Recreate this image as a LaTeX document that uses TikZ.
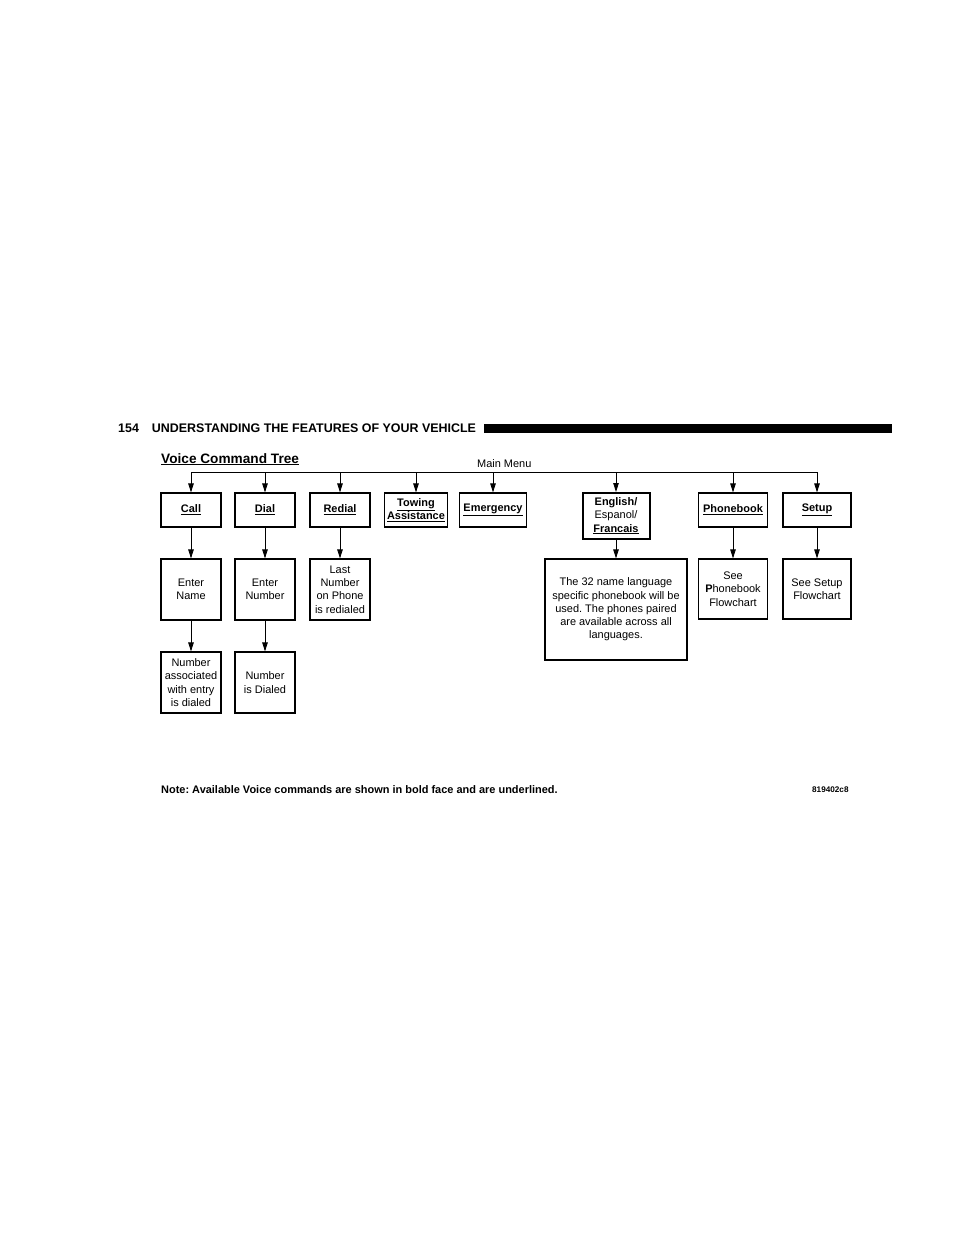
\documentclass[tikz,border=0pt]{standalone}
\usepackage{fontspec}
\setmainfont{Liberation Sans}
\usetikzlibrary{positioning,arrows.meta}

\begin{document}
\frenchspacing
\begin{tikzpicture}[x=1bp,y=-1bp,
    box/.style={draw,line width=1.2bp,align=center,inner sep=0pt,font=\fontsize{11}{13.3}\selectfont},
    cmd/.style={box,font=\fontsize{11}{13.3}\selectfont\bfseries},
    txt/.style={anchor=base west,inner sep=0pt},
    arr/.style={->,>={Triangle[length=9bp,width=5.5bp]},line width=0.8bp}]
  \useasboundingbox (0,0) rectangle (954,1235);
  % page header
  \node[txt,font=\fontsize{12.5}{14}\selectfont\bfseries] (head) at (118,432) {154\hspace{13bp}UNDERSTANDING THE FEATURES OF YOUR VEHICLE};
  \fill (484,424) rectangle (892,433);
  \node[txt,font=\fontsize{13.7}{15}\selectfont\bfseries] (title) at (161,463) {\underline{Voice Command Tree}};
  \node[txt,font=\fontsize{11}{13}\selectfont] (mainmenu) at (477,467) {Main Menu};

  % commands
  \node[cmd,minimum width=60bp,minimum height=34bp] (call) at (191,510) {\underline{Call}};
  \node[cmd,minimum width=60bp,minimum height=34bp] (dial) at (265,510) {\underline{Dial}};
  \node[cmd,minimum width=60bp,minimum height=34bp] (redial) at (340,510) {\underline{Redial}};
  \node[cmd,minimum width=63bp,minimum height=34bp] (towing) at (416,510) {\underline{Towing}\\\underline{Assistance}};
  \node[cmd,minimum width=67bp,minimum height=34bp] (emergency) at (493,510) {\underline{Emergency}};
  \node[cmd,line width=2bp,minimum width=67bp,minimum height=46bp] (english) at (616,516) {English/\\\mdseries Espanol/\\\underline{Francais}};
  \node[cmd,minimum width=69bp,minimum height=34bp] (phonebook) at (733,510) {\underline{Phonebook}};
  \node[cmd,minimum width=68bp,minimum height=34bp] (setup) at (817,510) {\underline{Setup}};

  % results
  \node[box,minimum width=60bp,minimum height=61bp] (entername) at (191,589.5) {Enter\\Name};
  \node[box,minimum width=60bp,minimum height=61bp] (enternumber) at (265,589.5) {Enter\\Number};
  \node[box,minimum width=60bp,minimum height=61bp] (lastnumber) at (340,589.5) {Last\\Number\\on Phone\\is redialed};
  \node[box,minimum width=142bp,minimum height=101bp] (langnote) at (616,609.5) {The 32 name language\\specific phonebook will be\\used. The phones paired\\are available across all\\languages.};
  \node[box,minimum width=69bp,minimum height=60bp] (seephone) at (733,589) {See\\\textbf{P}honebook\\Flowchart};
  \node[box,minimum width=68bp,minimum height=60bp] (seesetup) at (817,589) {See Setup\\Flowchart};
  \node[box,minimum width=60bp,minimum height=61bp] (assoc) at (191,682.5) {Number\\associated\\with entry\\is dialed};
  \node[box,minimum width=60bp,minimum height=61bp] (dialed) at (265,682.5) {Number\\is Dialed};

  % main menu bus
  \path (call.north) ++(0,-20) coordinate (busL);
  \path (setup.north) ++(0,-20) coordinate (busR);
  \draw[line width=0.9bp] (busL) -- (busR);
  \foreach \n in {call,dial,redial,towing,emergency,english,phonebook,setup}
    \draw[arr] (\n |- busL) -- (\n);

  \draw[arr] (call) -- (entername);
  \draw[arr] (entername) -- (assoc);
  \draw[arr] (dial) -- (enternumber);
  \draw[arr] (enternumber) -- (dialed);
  \draw[arr] (redial) -- (lastnumber);
  \draw[arr] (english) -- (langnote);
  \draw[arr] (phonebook) -- (seephone);
  \draw[arr] (setup) -- (seesetup);

  % footnote
  \node[txt,font=\fontsize{11}{13}\selectfont\bfseries] (note) at (161,793) {Note: Available Voice commands are shown in bold face and are underlined.};
  \node[txt,font=\fontsize{8.2}{10}\selectfont\bfseries] (code) at (812,792) {819402c8};
\end{tikzpicture}
\end{document}
